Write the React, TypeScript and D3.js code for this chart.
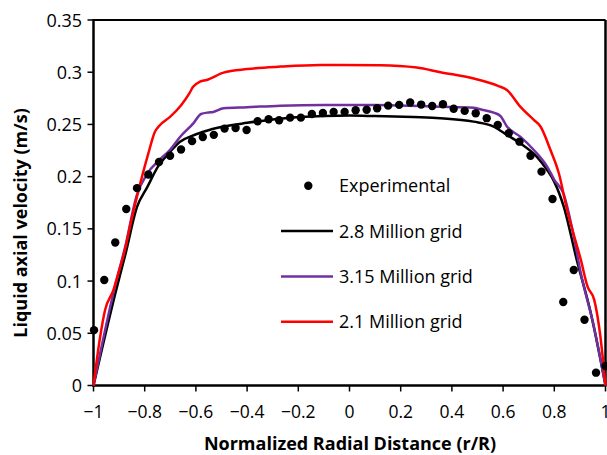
import React from "react";
import * as d3 from "d3";

const W = 607;
const H = 455;

const expX = [-0.998, -0.958, -0.915, -0.872, -0.83, -0.786, -0.744, -0.701, -0.658, -0.615, -0.573, -0.53, -0.488, -0.445, -0.402, -0.359, -0.316, -0.275, -0.232, -0.19, -0.147, -0.104, -0.062, -0.019, 0.024, 0.067, 0.108, 0.151, 0.194, 0.237, 0.28, 0.323, 0.365, 0.407, 0.45, 0.493, 0.536, 0.579, 0.622, 0.664, 0.707, 0.75, 0.793, 0.835, 0.876, 0.918, 0.963, 1.0];
const expY = [0.053, 0.101, 0.137, 0.169, 0.189, 0.202, 0.214, 0.22, 0.226, 0.234, 0.238, 0.24, 0.246, 0.2466, 0.2447, 0.253, 0.255, 0.254, 0.2565, 0.2565, 0.26, 0.261, 0.262, 0.262, 0.2636, 0.264, 0.2655, 0.268, 0.2687, 0.271, 0.269, 0.2677, 0.2693, 0.265, 0.263, 0.2607, 0.256, 0.2495, 0.2416, 0.2335, 0.22, 0.2048, 0.1786, 0.08, 0.1106, 0.063, 0.0123, 0.0187];

const g28X = [-1, -0.915, -0.875, -0.83, -0.79, -0.747, -0.7, -0.662, -0.615, -0.571, -0.492, -0.4, -0.27, -0.1, 0.0, 0.1, 0.25, 0.355, 0.485, 0.563, 0.615, 0.667, 0.732, 0.772, 0.8, 0.836, 0.888, 0.94, 1.0];
const g28Y = [0, 0.088, 0.126, 0.171, 0.19, 0.21, 0.224, 0.2335, 0.239, 0.243, 0.248, 0.2515, 0.2555, 0.258, 0.2585, 0.258, 0.257, 0.256, 0.2527, 0.248, 0.24, 0.232, 0.219, 0.2064, 0.195, 0.172, 0.12, 0.072, 0];

const g315X = [-1, -0.916, -0.877, -0.831, -0.79, -0.747, -0.7, -0.662, -0.61, -0.58, -0.55, -0.532, -0.492, -0.4, -0.27, -0.1, 0.1, 0.355, 0.485, 0.511, 0.563, 0.59, 0.615, 0.667, 0.72, 0.772, 0.8, 0.837, 0.87, 0.904, 0.955, 1.0];
const g315Y = [0, 0.095, 0.132, 0.182, 0.203, 0.215, 0.226, 0.238, 0.251, 0.26, 0.2615, 0.262, 0.2655, 0.2665, 0.268, 0.2687, 0.2687, 0.267, 0.266, 0.2645, 0.2613, 0.258, 0.248, 0.2383, 0.2255, 0.2096, 0.197, 0.183, 0.15, 0.107, 0.056, 0];

const g21X = [-1, -0.975, -0.955, -0.922, -0.9, -0.877, -0.855, -0.83, -0.786, -0.76, -0.74, -0.7, -0.657, -0.625, -0.611, -0.584, -0.558, -0.492, -0.4, -0.27, -0.113, 0.12, 0.263, 0.355, 0.485, 0.58, 0.615, 0.667, 0.72, 0.746, 0.785, 0.818, 0.85, 0.904, 0.93, 0.956, 0.98, 1.0];
const g21Y = [0, 0.045, 0.072, 0.0915, 0.11, 0.13, 0.155, 0.181, 0.222, 0.243, 0.2495, 0.2575, 0.2687, 0.28, 0.286, 0.291, 0.2926, 0.2996, 0.303, 0.3054, 0.307, 0.3067, 0.3045, 0.3, 0.294, 0.287, 0.283, 0.267, 0.2543, 0.248, 0.2255, 0.203, 0.168, 0.12, 0.0946, 0.082, 0.047, 0];

const xTicks = [-1, -0.8, -0.6, -0.4, -0.2, 0, 0.2, 0.4, 0.6, 0.8, 1];
const yTicks = [0, 0.05, 0.1, 0.15, 0.2, 0.25, 0.3, 0.35];

const seriesNames = ["Experimental", "2.8 Million grid", "3.15 Million grid", "2.1 Million grid"];
const seriesColors = ["#000000", "#000000", "#7030A0", "#FF0000"];

const FONT = "'Open Sans', sans-serif";

export default function App() {
  const left = 93.5, right = 605.5, top = 20, bottom = 385.5;
  const x = d3.scaleLinear().domain([-1, 1]).range([left, right]);
  const y = d3.scaleLinear().domain([0, 0.35]).range([bottom, top]);

  const line = d3
    .line<[number, number]>()
    .x((d) => x(d[0]))
    .y((d) => y(d[1]))
    .curve(d3.curveMonotoneX);

  const lines = [
    { xs: g28X, ys: g28Y, color: seriesColors[1] },
    { xs: g315X, ys: g315Y, color: seriesColors[2] },
    { xs: g21X, ys: g21Y, color: seriesColors[3] },
  ];

  const legendY = [185.7, 231, 276.5, 321.7];

  return (
    <svg width={W} height={H} style={{ position: "absolute", left: 0, top: 0, background: "#fff" }}>
      <rect x={0} y={0} width={W} height={H} fill="#fff" />
      {/* frame */}
      <line x1={left} x2={right} y1={top} y2={top} stroke="#000" strokeWidth={2} />
      <line x1={right} x2={right} y1={top} y2={bottom} stroke="#000" strokeWidth={2.5} />
      <line x1={left} x2={left} y1={top - 1} y2={bottom + 1} stroke="#000" strokeWidth={2.5} />
      <line x1={left - 1} x2={right + 1} y1={bottom} y2={bottom} stroke="#000" strokeWidth={2.5} />
      {/* y ticks */}
      {yTicks.map((t) => (
        <g key={"y" + t}>
          <line x1={left - 6} x2={left} y1={y(t)} y2={y(t)} stroke="#000" strokeWidth={1.5} />
          <text x={82} y={y(t) + 6.5} textAnchor="end" fontFamily={FONT} fontSize={18} fill="#000">
            {d3.format("")(t)}
          </text>
        </g>
      ))}
      {/* x ticks */}
      {xTicks.map((t) => (
        <g key={"x" + t}>
          <line x1={x(t)} x2={x(t)} y1={bottom} y2={bottom + 6} stroke="#000" strokeWidth={1.5} />
          <text x={x(t)} y={418} textAnchor="middle" fontFamily={FONT} fontSize={17.5} fill="#000">
            {d3.format("")(t)}
          </text>
        </g>
      ))}
      {/* lines */}
      {lines.map((s, i) => (
        <path
          key={"l" + i}
          d={line(s.xs.map((v, j) => [v, s.ys[j]] as [number, number])) || ""}
          fill="none"
          stroke={s.color}
          strokeWidth={2.5}
          strokeLinejoin="round"
        />
      ))}
      {/* experimental points */}
      {expX.map((v, i) => (
        <circle key={"p" + i} cx={x(v)} cy={y(expY[i])} r={4.2} fill="#000" />
      ))}
      {/* legend */}
      <circle cx={308.3} cy={legendY[0]} r={4.2} fill="#000" />
      {[1, 2, 3].map((i) => (
        <line key={"lg" + i} x1={281} x2={333} y1={legendY[i]} y2={legendY[i]} stroke={seriesColors[i]} strokeWidth={2.5} />
      ))}
      {seriesNames.map((n, i) => (
        <text key={"lt" + i} x={339} y={legendY[i] + 6.5} fontFamily={FONT} fontSize={18} fill="#000">
          {n}
        </text>
      ))}
      {/* axis titles */}
      <text x={350} y={450} textAnchor="middle" fontFamily={FONT} fontSize={18} fontWeight="bold" fill="#000">
        Normalized Radial Distance (r/R)
      </text>
      <text
        transform={`translate(27, 223) rotate(-90)`}
        textAnchor="middle"
        fontFamily={FONT}
        fontSize={18}
        fontWeight="bold"
        fill="#000"
      >
        Liquid axial velocity (m/s)
      </text>
    </svg>
  );
}
